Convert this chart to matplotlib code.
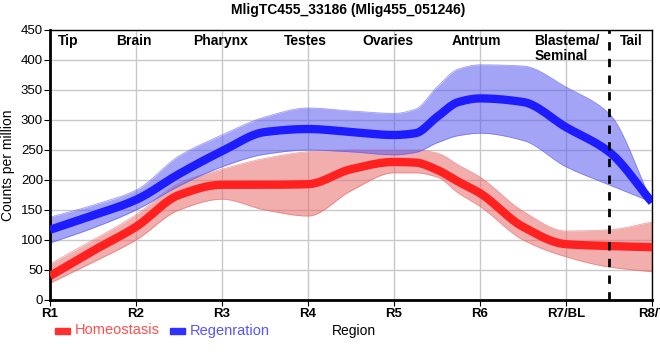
import numpy as np
import matplotlib
matplotlib.use('agg')
import matplotlib.pyplot as plt
from matplotlib.patches import Rectangle

plt.rcParams['font.family'] = ['Liberation Sans', 'DejaVu Sans']

# values (x in region units, R1 = 1)
pos = [1, 1.5, 2, 2.5, 3, 3.5, 4, 4.5, 5, 5.25, 5.5, 5.75, 6, 6.5, 7, 7.5, 8]
homeo = [40, 82, 122, 175, 192, 192, 193, 218, 230, 229, 217, 197, 178, 122, 93, 90, 88]
homeo_hi = [60, 100, 142, 195, 218, 236, 247, 250, 250, 250, 245, 225, 205, 148, 115, 117, 130]
homeo_lo = [28, 63, 100, 150, 168, 150, 140, 182, 212, 212, 205, 178, 156, 100, 72, 55, 47]
regen = [117, 141, 167, 210, 248, 280, 285, 280, 275, 278, 305, 330, 336, 330, 288, 247, 163]
regen_hi = [138, 158, 183, 240, 275, 305, 320, 315, 311, 318, 355, 385, 392, 390, 355, 311, 163]
regen_lo = [95, 120, 150, 190, 222, 243, 250, 247, 242, 246, 262, 274, 278, 266, 222, 192, 163]

tick_labels = ['R1', 'R2', 'R3', 'R4', 'R5', 'R6', 'R7/BL', 'R8/T']
regions = ['Tip', 'Brain', 'Pharynx', 'Testes', 'Ovaries', 'Antrum', 'Blastema/\nSeminal', 'Tail']
region_x = [1.21, 1.97, 2.98, 3.97, 4.93, 5.96, 6.63, 7.76]


def monotone(x, y, n=500):
    # monotone cubic (Fritsch-Carlson) so the curves look like the original
    x = np.asarray(x, float)
    y = np.asarray(y, float)
    h = np.diff(x)
    d = np.diff(y) / h
    m = np.zeros_like(y)
    m[0], m[-1] = d[0], d[-1]
    for i in range(1, len(y) - 1):
        if d[i - 1] * d[i] <= 0:
            m[i] = 0
        else:
            w1 = 2 * h[i] + h[i - 1]
            w2 = h[i] + 2 * h[i - 1]
            m[i] = (w1 + w2) / (w1 / d[i - 1] + w2 / d[i])
    xs = np.linspace(x[0], x[-1], n)
    k = np.clip(np.searchsorted(x, xs) - 1, 0, len(h) - 1)
    t = (xs - x[k]) / h[k]
    h00 = 2 * t**3 - 3 * t**2 + 1
    h10 = t**3 - 2 * t**2 + t
    h01 = -2 * t**3 + 3 * t**2
    h11 = t**3 - t**2
    ys = h00 * y[k] + h10 * h[k] * m[k] + h01 * y[k + 1] + h11 * h[k] * m[k + 1]
    return xs, ys


fig = plt.figure(figsize=(6.6, 3.6), dpi=100)
ax = fig.add_axes([50 / 660, 60 / 360, 602 / 660, 270 / 360])

for mid, hi, lo, col, band in [(homeo, homeo_hi, homeo_lo, '#ff2020', '#e86a6a'),
                               (regen, regen_hi, regen_lo, '#1c1cff', '#5a5af0')]:
    xs, yh = monotone(pos, hi)
    _, yl = monotone(pos, lo)
    ax.fill_between(xs, yl, yh, color=band, alpha=0.55, lw=0, zorder=2)
    ax.plot(xs, yh, color=band, lw=0.6, alpha=0.6, zorder=2)
    ax.plot(xs, yl, color=band, lw=0.6, alpha=0.6, zorder=2)
    xs, ym = monotone(pos, mid)
    ax.plot(xs, ym, color=col, lw=6, solid_capstyle='butt', zorder=3)

ax.axvline(7.5, color='black', lw=2, ls=(0, (3, 3)), zorder=4)

ax.set_xlim(1, 8)
ax.set_ylim(0, 450)
ax.set_xticks(range(1, 9))
ax.set_xticklabels(tick_labels, fontweight='bold', fontsize=9.5)
ax.set_yticks(range(0, 451, 50))
ax.tick_params(axis='y', labelsize=9.5, length=4, pad=1)
ax.tick_params(axis='x', length=4, pad=2)
ax.grid(True, color='#c8c8c8', lw=1, zorder=0)
ax.set_axisbelow(True)
for s in ['left', 'bottom']:
    ax.spines[s].set_linewidth(2)
for s in ['top', 'right']:
    ax.spines[s].set_linewidth(1)

ax.set_ylabel('Counts per million', fontsize=10, labelpad=4)
fig.text(0.528, 0.972, 'MligTC455_33186 (Mlig455_051246)', ha='center', va='center',
         fontsize=10, fontweight='bold')

for name, xr in zip(regions, region_x):
    ha = 'left' if '\n' in name else 'center'
    ax.text(xr, 443, name, ha=ha, va='top', fontsize=10, fontweight='bold',
            linespacing=1.05, zorder=5)

# legend row below the axis
ly = 1 - 330.5 / 360
fig.patches.append(Rectangle((55 / 660, ly - 3 / 360), 15 / 660, 6 / 360,
                             transform=fig.transFigure, color='#ff3030'))
fig.text(75 / 660, ly, 'Homeostasis', color='#ff5050', fontsize=10.5, va='center')
fig.patches.append(Rectangle((170 / 660, ly - 3 / 360), 15 / 660, 6 / 360,
                             transform=fig.transFigure, color='#3030ff'))
fig.text(190 / 660, ly, 'Regenration', color='#5555ff', fontsize=10.5, va='center')
fig.text(332 / 660, ly, 'Region', fontsize=10, va='center')

fig.savefig('out.png', dpi=100)
